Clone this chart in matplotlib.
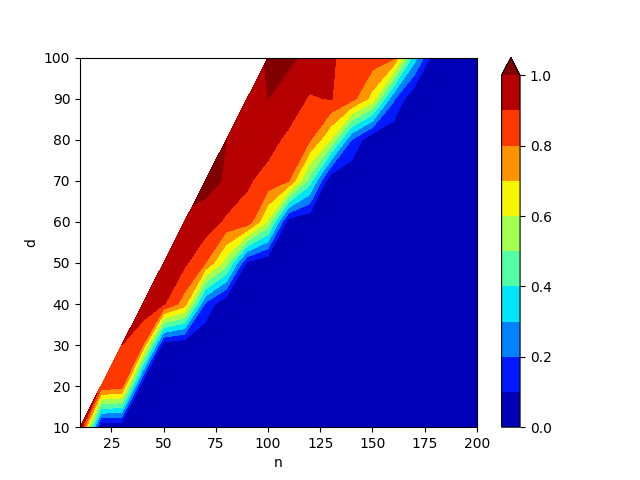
import numpy as np
import matplotlib
matplotlib.use("Agg")
import matplotlib.pyplot as plt

nan = np.nan

# grid
n_vals = [10, 20, 30, 40, 50, 60, 70, 80, 90, 100,
          110, 120, 130, 140, 150, 160, 170, 180, 190, 200]
d_vals = [10, 20, 30, 40, 50, 60, 70, 80, 90, 100]

# one row per d, one column per n (nan where d > n)
row_d10 = [1.0, 0, 0, 0, 0, 0, 0, 0, 0, 0, 0, 0, 0, 0, 0, 0, 0, 0, 0, 0]
row_d20 = [nan, 0.88, 0.84, 0, 0, 0, 0, 0, 0, 0, 0, 0, 0, 0, 0, 0, 0, 0, 0, 0]
row_d30 = [nan, nan, 0.9, 0.8, 0.03, 0, 0, 0, 0, 0, 0, 0, 0, 0, 0, 0, 0, 0, 0, 0]
row_d40 = [nan, nan, nan, 0.97, 0.91, 0.75, 0.18, 0, 0, 0, 0, 0, 0, 0, 0, 0, 0, 0, 0, 0]
row_d50 = [nan, nan, nan, nan, 0.97, 0.92, 0.8, 0.55, 0.08, 0, 0, 0, 0, 0, 0, 0, 0, 0, 0, 0]
row_d60 = [nan, nan, nan, nan, nan, 0.98, 0.96, 0.88, 0.87, 0.58, 0.03, 0, 0, 0, 0, 0, 0, 0, 0, 0]
row_d70 = [nan, nan, nan, nan, nan, nan, 1.03, 0.99, 0.91, 0.87, 0.8, 0.45, 0, 0, 0, 0, 0, 0, 0, 0]
row_d80 = [nan, nan, nan, nan, nan, nan, nan, 1.0, 0.96, 0.93, 0.88, 0.81, 0.6, 0.2, 0, 0, 0, 0, 0, 0]
row_d90 = [nan, nan, nan, nan, nan, nan, nan, nan, 0.95, 1.0, 0.95, 0.89, 0.905, 0.84, 0.66, 0.22, 0, 0, 0, 0]
row_d100 = [nan, nan, nan, nan, nan, nan, nan, nan, nan, 1.01, 1.02, 0.97, 0.91, 0.87, 0.86, 0.82, 0.35, 0.02, 0, 0]

Z = np.ma.masked_invalid(np.array([row_d10, row_d20, row_d30, row_d40, row_d50,
                                   row_d60, row_d70, row_d80, row_d90, row_d100]))
N, D = np.meshgrid(n_vals, d_vals)

fig = plt.figure(figsize=(6.4, 4.8), dpi=100)
cf = plt.contourf(N, D, Z, levels=np.linspace(0, 1, 11), cmap="jet", extend="max")
plt.colorbar(cf)
plt.xlabel("n")
plt.ylabel("d")
plt.savefig("out.png")
